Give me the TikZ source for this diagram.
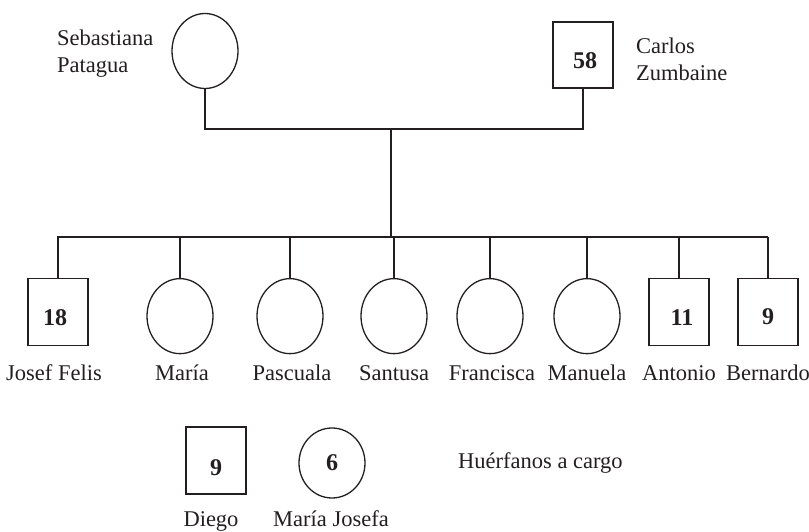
\documentclass[tikz,border=0pt]{standalone}
\usepackage{fontspec}
\setmainfont{Liberation Serif}
\usetikzlibrary{shapes.geometric,calc}
\definecolor{ink}{RGB}{35,31,32}
\tikzset{
  txtbase/.style={font=\fontsize{22.5}{27}\selectfont, text=ink},
  fem/.style={draw=ink, line width=1.3pt, ellipse, minimum width=66pt, minimum height=75pt, inner sep=0pt},
  mal/.style={draw=ink, line width=1.3pt, rectangle, minimum width=60pt, minimum height=67pt, inner sep=0pt},
  numlbl/.style={txtbase, font=\fontsize{24}{28}\selectfont\bfseries},
  perslbl/.style={txtbase, inner sep=0pt},
  link/.style={draw=ink, line width=1.3pt}
}
\begin{document}
\begin{tikzpicture}[x=1pt,y=-1pt]
\useasboundingbox (0,0) rectangle (809,532);
% parents
\node[fem] (seb) at (205,51) {};
\node[mal, minimum height=66pt] (car) at (583,55) {};
\node[numlbl] (n58) at ([xshift=2pt,yshift=-6pt]car.center) {58};
\node[perslbl, anchor=west, align=left] (sebn) at (57,53.5) {Sebastiana\\Patagua};
\node[perslbl, anchor=west, align=left] (carn) at (636,59) {Carlos\\Zumbaine};
% junctions
\coordinate (m) at (391,129);
\coordinate (cb) at (391,237);
\coordinate (bl) at (57,237);
\coordinate (br) at (768,237);
% children
\node[mal, anchor=north] (jos) at (58,278) {};
\node[fem, anchor=north] (mar) at (180,278) {};
\node[fem, anchor=north] (pas) at (290,278) {};
\node[fem, anchor=north] (san) at (394,278) {};
\node[fem, anchor=north] (fra) at (490,278) {};
\node[fem, anchor=north] (man) at (587,278) {};
\node[mal, anchor=north] (ant) at (679,278) {};
\node[mal, anchor=north] (ber) at (768,278) {};
\node[numlbl] (n18) at ([xshift=-3pt,yshift=-5pt]jos.center) {18};
\node[numlbl] (n11) at ([xshift=3pt,yshift=-5pt]ant.center) {11};
\node[numlbl] (n9a) at ([yshift=-5pt]ber.center) {9};
% child names
\node[perslbl] (josn) at (54,373) {Josef Felis};
\node[perslbl] (marn) at (182,373) {María};
\node[perslbl] (pasn) at (292,373) {Pascuala};
\node[perslbl] (sann) at (394,373) {Santusa};
\node[perslbl] (fran) at (492,373) {Francisca};
\node[perslbl] (mann) at (587,373) {Manuela};
\node[perslbl] (antn) at (679,373) {Antonio};
\node[perslbl] (bern) at (768,373) {Bernardo};
% connectors
\draw[link] (seb.south) |- (m) -| (car.south);
\draw[link] (m) -- (cb);
\draw[link] (bl) -- (br);
\foreach \c in {jos,mar,pas,san,fra,man,ant,ber}
  \draw[link] (\c.north) -- (\c.north |- cb);
% orphans
\node[mal] (die) at (216,460.5) {};
\node[numlbl] (n9b) at ([yshift=-7pt]die.center) {9};
\node[fem, minimum width=66pt, minimum height=70pt] (mjo) at (332,463) {};
\node[numlbl] (n6) at (mjo.center) {6};
\node[perslbl] (dien) at (211,521) {Diego};
\node[perslbl] (mjon) at (331,519) {María Josefa};
\node[perslbl, anchor=west] (huer) at (458,463) {Huérfanos a cargo};
\end{tikzpicture}
\end{document}
